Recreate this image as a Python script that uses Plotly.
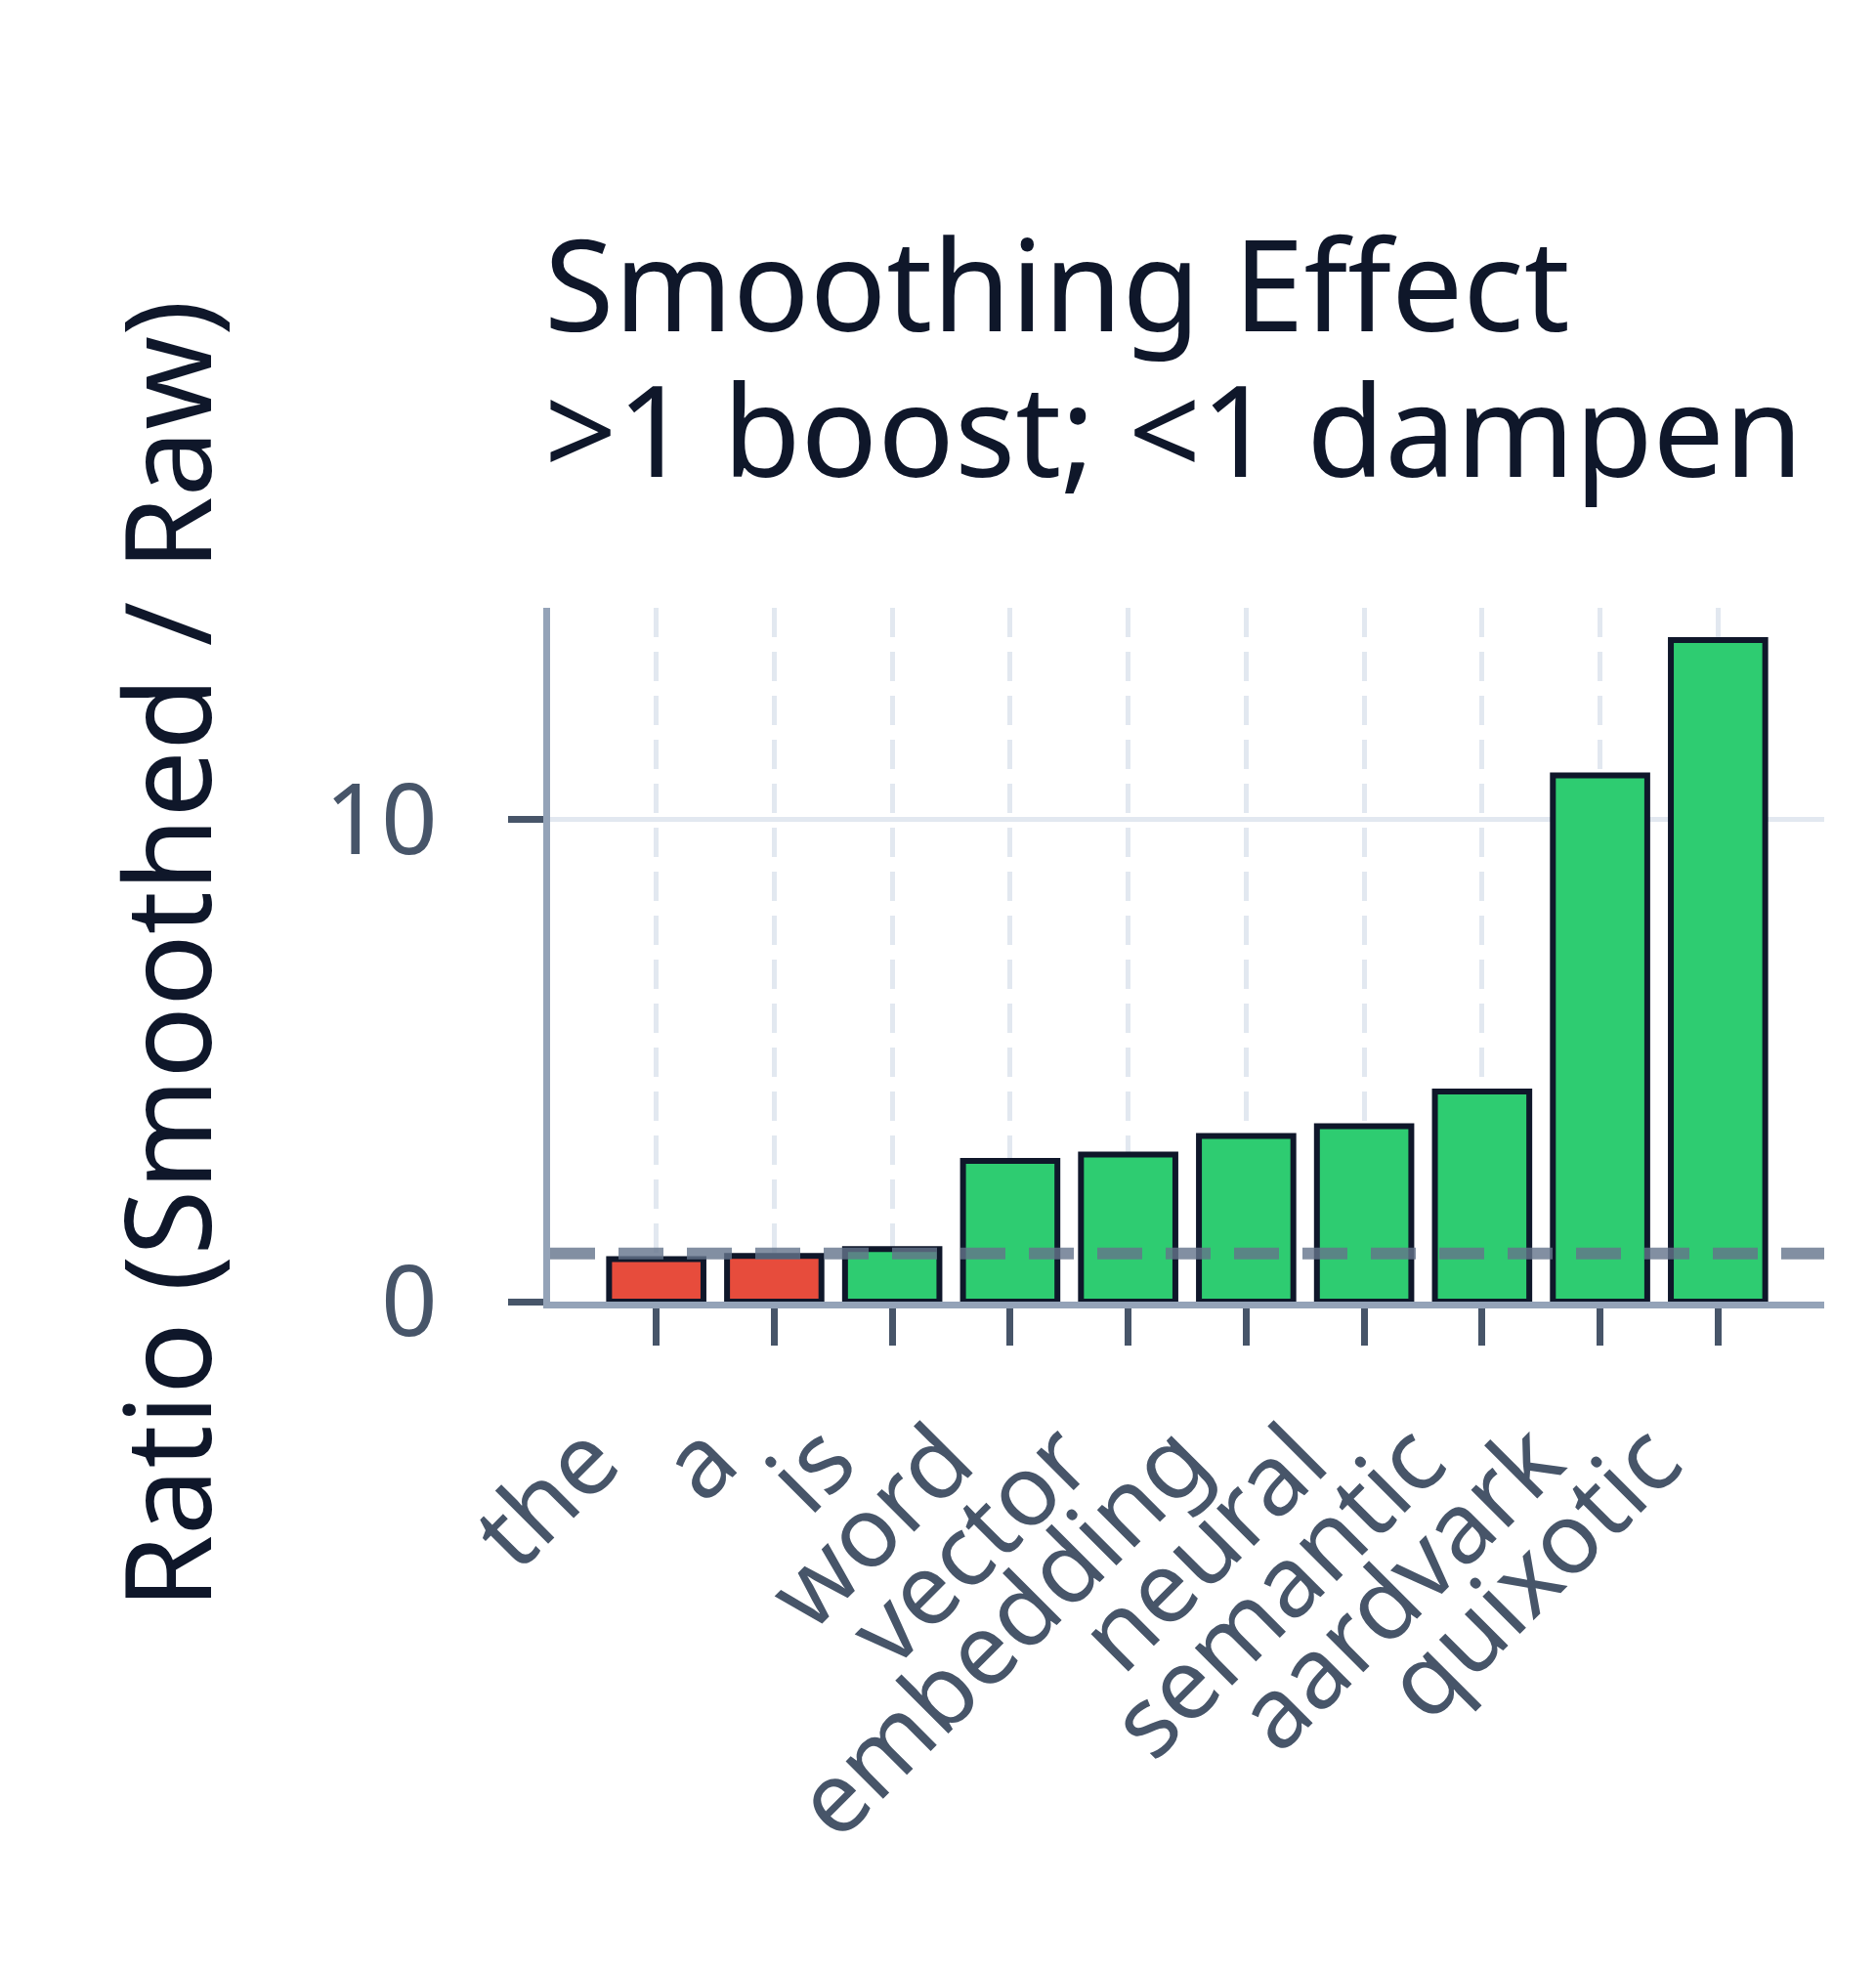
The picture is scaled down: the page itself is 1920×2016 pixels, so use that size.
import plotly.graph_objects as go

words = ['the', 'a', 'is', 'word', 'vector', 'embedding', 'neural', 'semantic', 'aardvark', 'quixotic']
ratios = [0.88, 0.95, 1.09, 2.92, 3.05, 3.44, 3.64, 4.36, 10.92, 13.73]

title_lines = ['Smoothing Effect', '>1 boost; <1 dampen']

bar_colors = ['#e74c3c' if r < 1 else '#2ecc71' for r in ratios]

fig = go.Figure()
fig.add_trace(go.Bar(x=words, y=ratios,
                     marker=dict(color=bar_colors, line=dict(color='#0f172a', width=6)),
                     showlegend=False))

# reference line at ratio = 1
fig.add_hline(y=1, opacity=0.8, line=dict(color='#64748b', width=12, dash='46px,24px'))

# glyphs a bit larger than the line spacing (tight two-line title)
title_text = '<br>'.join('<span style="font-size:130px">%s</span>' % t
                         for t in title_lines)

fig.update_layout(
    width=1920, height=2016,
    font=dict(family='Noto Sans', color='#0f172a'),
    title=dict(text=title_text,
               font=dict(size=115, color='#0f172a'),
               x=0.286, xanchor='left', xref='container',
               y=0.836, yanchor='top', yref='container'),
    margin=dict(l=555, r=61, t=614, b=692),
    plot_bgcolor='white', paper_bgcolor='white',
    bargap=0.2,
)

fig.update_xaxes(range=[-0.9, 9.9], tickangle=-45, tickmode='linear', dtick=1,
                 tickfont=dict(size=101, color='#475569'),
                 ticklabelstandoff=18, ticklabelshift=-68,
                 showline=True, linecolor='#94a3b8', linewidth=7,
                 ticks='outside', ticklen=38, tickwidth=7, tickcolor='#475569',
                 showgrid=True, gridcolor='#e2e8f0', gridwidth=5, griddash='30px,15px')
fig.update_yaxes(range=[0, 14.4], dtick=10,
                 title=dict(text='Ratio (Smoothed / Raw)', standoff=77,
                            font=dict(size=122, color='#0f172a')),
                 tickfont=dict(size=101, color='#475569'), ticklabelstandoff=52,
                 showline=True, linecolor='#94a3b8', linewidth=7,
                 ticks='outside', ticklen=36, tickwidth=7, tickcolor='#475569',
                 showgrid=True, gridcolor='#e2e8f0', gridwidth=5, zeroline=False)

fig.write_html('out.html')
